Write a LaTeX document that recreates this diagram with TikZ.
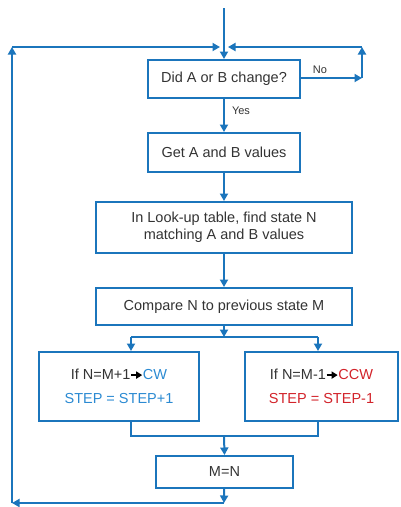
\documentclass[tikz,border=0pt]{standalone}
\usepackage{fontspec}
\setmainfont{Liberation Sans}
\usetikzlibrary{arrows.meta,calc}
\definecolor{lineblue}{HTML}{1B75BC}
\definecolor{txtblue}{HTML}{2B8AD2}
\definecolor{txtred}{HTML}{D2232A}
\definecolor{txtgray}{HTML}{333333}
\newcommand{\smallarrow}{\tikz[baseline=-0.6ex]\draw[black,line width=1.5pt,-{Triangle[length=6pt,width=7pt]}](0,0)--(11pt,0);}
\begin{document}
\begin{tikzpicture}[x=1pt,y=-1pt,
  box/.style={draw=lineblue,line width=2pt,rectangle,inner sep=0pt,align=center,
    text=txtgray,font=\fontsize{14.5}{17}\selectfont},
  arr/.style={draw=lineblue,line width=2pt,-{Triangle[length=7.5pt,width=8pt]}},
  ln/.style={draw=lineblue,line width=2pt},
  lbl/.style={text=txtgray,font=\fontsize{11}{13}\selectfont,inner sep=0pt}]
\useasboundingbox (0,0) rectangle (400,507);
\node[box,minimum width=152,minimum height=38] (b1) at (224,79) {Did A or B change?};
\node[box,minimum width=152,minimum height=39] (b2) at (224,152.5) {Get A and B values};
\node[box,minimum width=256,minimum height=51] (b3) at (224,227.5) {In Look-up table, find state N\\matching A and B values};
\node[box,minimum width=256,minimum height=37] (b4) at (224,306.5) {Compare N to previous state M};
\node[box,minimum width=160,minimum height=69,font=\fontsize{14.5}{24}\selectfont] (bl) at (119,386.5)
  {If N=M+1\smallarrow\textcolor{txtblue}{CW}\\\textcolor{txtblue}{STEP = STEP+1}};
\node[box,minimum width=153,minimum height=69,font=\fontsize{14.5}{24}\selectfont] (br) at (321.5,386.5)
  {If N=M-1\smallarrow\textcolor{txtred}{CCW}\\\textcolor{txtred}{STEP = STEP-1}};
\node[box,minimum width=137,minimum height=32] (bm) at (224.5,472) {M=N};
% coordinates
\coordinate (start) at (224,8);
\coordinate (nr) at (362,78);
\coordinate (nrt) at (362,47);
\coordinate (inR) at (228,47);
\coordinate (inL) at (220,47);
\coordinate (topL) at (12,47);
\coordinate (botL) at (12,503);
\coordinate (bot) at (224,503);
\coordinate (split) at (224,337);
\coordinate (sL) at (131,337);
\coordinate (sR) at (318,337);
\coordinate (jL) at (131,436);
\coordinate (jR) at (318,436);
\coordinate (join) at (224,436);
% connectors
\draw[arr] (start) -- (b1.north);
\draw[arr] (b1.east |- nr) -- (nr);
\draw[arr] (nr) -- (nrt);
\draw[arr] (nrt) -- (inR);
\draw[arr] (b1) -- (b2);
\draw[arr] (b2) -- (b3);
\draw[arr] (b3) -- (b4);
\draw[arr] (b4) -- (split);
\draw[ln] (sL) -- (sR);
\draw[arr] (sL) -- (sL |- bl.north);
\draw[arr] (sR) -- (sR |- br.north);
\draw[ln] (jL |- bl.south) -- (jL) -- (jR) -- (jR |- br.south);
\draw[arr] (join) -- (bm.north);
\draw[arr] (bm) -- (bot);
\draw[arr] (bot) -- (botL);
\draw[arr] (botL) -- (topL);
\draw[arr] (topL) -- (inL);
% labels
\node[lbl] (no) at (320,70) {No};
\node[lbl] (yes) at (241,111) {Yes};
\end{tikzpicture}
\end{document}
